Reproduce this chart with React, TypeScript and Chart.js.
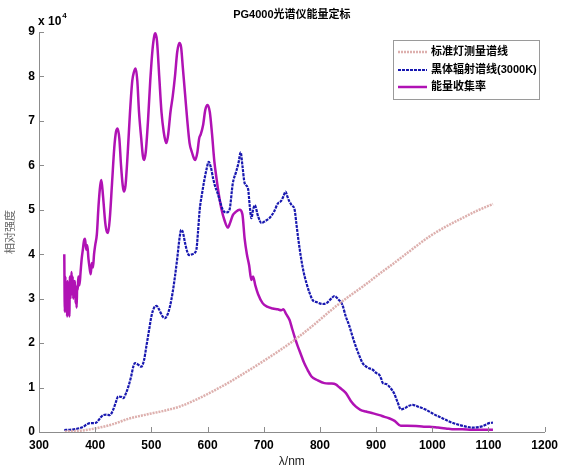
import React, { useEffect, useRef } from "react";
import { Chart, registerables } from "chart.js";

Chart.register(...registerables);

// Values are stored in units of 10^4 counts; the y axis shows them with a "x 10^4" marker.
const UNIT = 1e4;

const TITLE = "PG4000光谱仪能量定标";
const X_TITLE = "λ/nm";
const Y_TITLE = "相对强度";

const xTickValues = [300, 400, 500, 600, 700, 800, 900, 1000, 1100, 1200];
const yTickValues = [0, 1, 2, 3, 4, 5, 6, 7, 8, 9];

const seriesNames = ["标准灯测量谱线", "黑体辐射谱线(3000K)", "能量收集率"];

// Standard lamp measured spectrum
const lampNm = [346, 375, 400, 430, 460, 490, 520, 550, 580, 610, 640, 670, 700, 730, 760, 790, 817, 846, 876, 905, 935, 965, 994, 1024, 1053, 1080, 1108];
const lampVal = [0.01, 0.03, 0.08, 0.17, 0.3, 0.39, 0.47, 0.57, 0.73, 0.92, 1.13, 1.36, 1.6, 1.85, 2.12, 2.42, 2.71, 3.0, 3.27, 3.55, 3.83, 4.12, 4.39, 4.62, 4.81, 4.98, 5.13];

// Blackbody radiation spectrum (3000K)
const bbNm = [345, 355, 367, 373, 379, 385, 391, 397, 403, 408, 414, 420, 426, 432, 437, 441, 446, 450, 455, 459, 464, 468, 471, 476, 482, 487, 491, 496, 500, 505, 509, 514, 519, 524, 529, 533, 538, 542, 546, 550, 553, 556, 560, 564, 567, 573, 580, 583, 586, 590, 594, 598, 602, 606, 610, 613, 618, 622, 627, 633, 639, 645, 651, 655, 659, 662, 666, 672, 675, 678, 681, 684, 690, 696, 703, 710, 718, 725, 731, 735, 739, 742, 746, 750, 755, 758, 761, 767, 771, 776, 781, 787, 795, 805, 812, 820, 826, 833, 840, 846, 852, 858, 864, 870, 876, 885, 894, 900, 906, 909, 912, 918, 925, 932, 938, 944, 950, 957, 965, 975, 989, 1003, 1018, 1033, 1048, 1060, 1071, 1082, 1089, 1096, 1101, 1108];
const bbVal = [0.045, 0.05, 0.07, 0.09, 0.12, 0.17, 0.2, 0.2, 0.22, 0.3, 0.38, 0.39, 0.38, 0.5, 0.68, 0.8, 0.79, 0.76, 0.88, 1.02, 1.25, 1.48, 1.55, 1.52, 1.47, 1.62, 1.92, 2.3, 2.6, 2.8, 2.84, 2.75, 2.62, 2.56, 2.65, 2.82, 3.15, 3.5, 3.9, 4.35, 4.55, 4.5, 4.25, 4.05, 3.98, 4.0, 4.1, 4.5, 5.0, 5.35, 5.65, 5.9, 6.08, 5.95, 5.7, 5.55, 5.37, 5.2, 5.0, 4.94, 5.0, 5.6, 5.86, 6.05, 6.29, 6.0, 5.6, 5.48, 5.1, 4.81, 5.0, 5.1, 4.85, 4.7, 4.75, 4.81, 4.95, 5.14, 5.2, 5.3, 5.41, 5.3, 5.18, 5.1, 5.0, 4.7, 4.39, 3.87, 3.6, 3.35, 3.15, 2.97, 2.92, 2.88, 2.9, 3.0, 3.06, 2.98, 2.86, 2.6, 2.4, 2.15, 1.92, 1.72, 1.55, 1.45, 1.4, 1.33, 1.28, 1.2, 1.1, 1.08, 1.0, 0.87, 0.68, 0.51, 0.53, 0.58, 0.61, 0.57, 0.5, 0.4, 0.31, 0.22, 0.16, 0.12, 0.1, 0.11, 0.13, 0.17, 0.2, 0.21];

// Energy collection rate
const effNm = [345, 346, 347, 348, 349, 350, 351, 352, 353, 354, 355, 356, 357, 358, 359, 360, 361, 362, 363, 364, 365, 366, 367, 368, 369, 370, 372, 374, 376, 378, 380, 382, 384, 386, 388, 390, 392, 394, 396, 398, 400, 403, 406, 409, 411, 414, 418, 421, 423, 426, 430, 434, 437, 440, 443, 446, 449, 451, 454, 458, 462, 466, 469, 472, 475, 478, 482, 485, 487, 490, 494, 498, 502, 505, 507, 510, 514, 518, 522, 525, 527, 530, 534, 538, 542, 546, 550, 553, 556, 560, 564, 568, 572, 576, 578, 582, 585, 588, 592, 596, 600, 604, 608, 612, 616, 620, 625, 630, 636, 640, 645, 650, 657, 662, 666, 670, 674, 678, 681, 685, 690, 698, 706, 716, 725, 731, 735, 740, 746, 750, 755, 760, 766, 772, 778, 785, 795, 808, 820, 828, 835, 846, 855, 864, 872, 882, 895, 906, 915, 923, 933, 944, 955, 971, 985, 995, 1010, 1024, 1040, 1053, 1070, 1090, 1108];
const effVal = [4.0, 2.7, 3.5, 3.0, 3.3, 2.6, 3.4, 2.8, 3.2, 2.6, 3.5, 3.0, 3.3, 3.6, 3.1, 3.5, 3.0, 3.4, 3.2, 3.4, 2.9, 3.1, 2.8, 3.3, 3.2, 3.5, 3.3, 3.6, 3.9, 4.1, 4.3, 4.35, 4.1, 4.2, 3.9, 3.7, 3.55, 3.8, 3.7, 4.0, 4.2, 4.45, 5.1, 5.55, 5.67, 5.3, 4.7, 4.5, 4.48, 4.8, 5.6, 6.4, 6.75, 6.83, 6.6, 6.0, 5.55, 5.41, 5.55, 6.3, 7.2, 7.9, 8.1, 8.18, 7.9, 7.2, 6.6, 6.2, 6.12, 6.3, 7.0, 7.9, 8.6, 8.9, 8.97, 8.8, 8.0, 7.2, 6.75, 6.55, 6.5, 6.7, 7.2, 7.55, 8.0, 8.55, 8.75, 8.65, 8.2, 7.6, 7.0, 6.5, 6.3, 6.15, 6.12, 6.3, 6.6, 6.7, 6.9, 7.25, 7.36, 7.2, 6.7, 6.1, 5.7, 5.35, 5.0, 4.77, 4.6, 4.7, 4.88, 4.95, 5.0, 4.9, 4.35, 4.0, 3.75, 3.42, 3.5, 3.3, 3.1, 2.9, 2.82, 2.78, 2.76, 2.74, 2.76, 2.65, 2.52, 2.35, 2.14, 1.95, 1.75, 1.55, 1.4, 1.25, 1.17, 1.1, 1.09, 1.07, 1.0, 0.88, 0.7, 0.57, 0.5, 0.46, 0.42, 0.38, 0.34, 0.31, 0.25, 0.14, 0.14, 0.135, 0.12, 0.12, 0.1, 0.08, 0.06, 0.06, 0.05, 0.05, 0.05];

const AXIS_COLOR = "#8c8c8c";
const LATIN_CJK = '"Liberation Sans", Arial, "Noto Sans CJK SC", sans-serif';

const toPoints = (nm: number[], val: number[]) => nm.map((x, i) => ({ x, y: val[i] * UNIT }));

// Title, inward tick marks, exponent marker and boxed legend
const decorPlugin = {
  id: "decor",
  afterDraw(chart: any) {
    const { ctx, chartArea: a, scales } = chart;
    const xs = scales.x;
    const ys = scales.y;
    ctx.save();

    ctx.strokeStyle = AXIS_COLOR;
    ctx.lineWidth = 1;
    ctx.beginPath();
    xs.ticks.forEach((t: any) => {
      const p = Math.round(xs.getPixelForValue(t.value)) + 0.5;
      ctx.moveTo(p, a.bottom);
      ctx.lineTo(p, a.bottom - 5);
    });
    ys.ticks.forEach((t: any) => {
      const p = Math.round(ys.getPixelForValue(t.value)) + 0.5;
      ctx.moveTo(a.left, p);
      ctx.lineTo(a.left + 5, p);
    });
    ctx.stroke();

    // chart title
    ctx.fillStyle = "#000";
    ctx.font = `bold 11px ${LATIN_CJK}`;
    ctx.textAlign = "center";
    ctx.textBaseline = "middle";
    ctx.fillText(TITLE, (a.left + a.right) / 2, 15);

    // exponent marker "x 10^4"
    ctx.textAlign = "left";
    ctx.textBaseline = "alphabetic";
    ctx.font = `bold 12px ${LATIN_CJK}`;
    ctx.fillText("x 10", a.left - 1, 25);
    const w = ctx.measureText("x 10").width;
    ctx.font = `bold 8px ${LATIN_CJK}`;
    ctx.fillText("4", a.left + w, 18);

    // legend
    const bx = 393, by = 40, bw = 146, bh = 59;
    ctx.fillStyle = "#fff";
    ctx.fillRect(bx, by, bw, bh);
    ctx.strokeStyle = "#9a9a9a";
    ctx.lineWidth = 1;
    ctx.strokeRect(bx + 0.5, by + 0.5, bw, bh);
    const rows = [52, 70, 87];
    chart.data.datasets.forEach((ds: any, i: number) => {
      const ry = rows[i];
      ctx.save();
      ctx.strokeStyle = ds.borderColor;
      ctx.lineWidth = ds.borderWidth;
      ctx.setLineDash(ds.borderDash || []);
      ctx.beginPath();
      ctx.moveTo(398, ry);
      ctx.lineTo(427, ry);
      ctx.stroke();
      ctx.restore();
      ctx.fillStyle = "#000";
      ctx.font = `bold 11px ${LATIN_CJK}`;
      ctx.textAlign = "left";
      ctx.textBaseline = "middle";
      ctx.fillText(ds.label, 431, ry);
    });

    ctx.restore();
  },
};

export default function App() {
  const canvasRef = useRef<HTMLCanvasElement | null>(null);

  useEffect(() => {
    const canvas = canvasRef.current;
    if (!canvas) return;
    const chart = new Chart(canvas, {
      type: "line",
      data: {
        datasets: [
          {
            label: seriesNames[0],
            data: toPoints(lampNm, lampVal),
            borderColor: "#ddb0ae",
            borderWidth: 2.5,
            borderDash: [2, 1],
            pointRadius: 0,
            cubicInterpolationMode: "monotone",
            fill: false,
          },
          {
            label: seriesNames[1],
            data: toPoints(bbNm, bbVal),
            borderColor: "#1818b0",
            borderWidth: 2.2,
            borderDash: [3, 1],
            pointRadius: 0,
            cubicInterpolationMode: "monotone",
            fill: false,
          },
          {
            label: seriesNames[2],
            data: toPoints(effNm, effVal),
            borderColor: "#b012b4",
            borderWidth: 2.5,
            pointRadius: 0,
            cubicInterpolationMode: "monotone",
            fill: false,
          },
        ],
      },
      options: {
        responsive: false,
        animation: false,
        devicePixelRatio: 1,
        layout: { padding: { left: 0, right: 18, top: 32, bottom: 0 } },
        plugins: {
          legend: { display: false },
          title: { display: false },
          tooltip: { enabled: false },
        },
        scales: {
          x: {
            type: "linear",
            min: 300,
            max: 1200,
            afterBuildTicks: (s: any) => {
              s.ticks = xTickValues.map((v) => ({ value: v }));
            },
            afterFit: (s: any) => {
              s.height = 38;
            },
            grid: { display: false, drawTicks: false },
            border: { display: true, color: AXIS_COLOR, width: 1 },
            ticks: {
              padding: 6,
              color: "#000",
              maxRotation: 0,
              font: { family: LATIN_CJK, size: 12, weight: "bold" },
              callback: (v: any) => String(v),
            },
            title: {
              display: true,
              text: X_TITLE,
              color: "#222",
              padding: { top: 0, bottom: 1 },
              font: { family: LATIN_CJK, size: 12 },
            },
          },
          y: {
            type: "linear",
            min: 0,
            max: 9 * UNIT,
            afterBuildTicks: (s: any) => {
              s.ticks = yTickValues.map((v) => ({ value: v * UNIT }));
            },
            afterFit: (s: any) => {
              s.width = 39;
            },
            grid: { display: false, drawTicks: false },
            border: { display: true, color: AXIS_COLOR, width: 1 },
            ticks: {
              padding: 4,
              color: "#000",
              font: { family: LATIN_CJK, size: 12, weight: "bold" },
              callback: (v: any) => String(Math.round(Number(v) / UNIT)),
            },
            title: {
              display: true,
              text: Y_TITLE,
              color: "#666",
              padding: { top: 3, bottom: 0 },
              font: { family: '"Noto Sans CJK SC", sans-serif', size: 11 },
            },
          },
        },
      },
      plugins: [decorPlugin],
    });
    return () => chart.destroy();
  }, []);

  return (
    <div style={{ position: "absolute", left: 0, top: 0, width: 564, height: 470, background: "#fff" }}>
      <canvas ref={canvasRef} width={564} height={470} />
    </div>
  );
}
